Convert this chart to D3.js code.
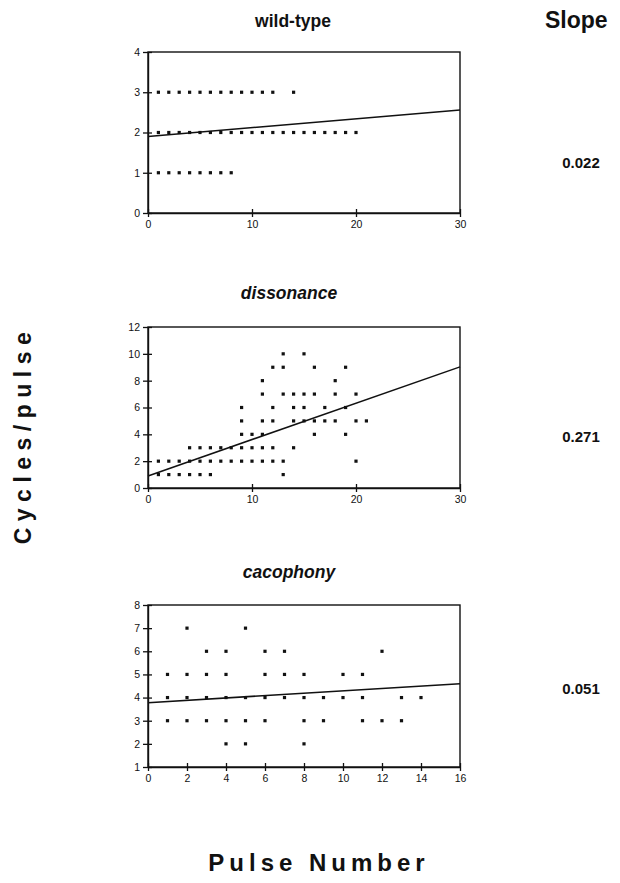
<!DOCTYPE html>
<html>
<head>
<meta charset="utf-8">
<script src="https://cdn.jsdelivr.net/npm/d3@7"></script>
<style>
  html, body { margin: 0; padding: 0; background: #fff; }
  svg { display: block; font-family: "Liberation Sans", Arial, Helvetica, sans-serif; }
</style>
</head>
<body>
<svg id="chart" width="620" height="883"></svg>
<script>
// ---- Data ----
const panelTitles = ["wild-type", "dissonance", "cacophony"];
const slopeLabels = ["0.022", "0.271", "0.051"];
const slopes = [0.022, 0.271, 0.051];
const intercepts = [1.9, 0.9, 3.78];
const xDomains = [[0, 30], [0, 30], [0, 16]];
const yDomains = [[0, 4], [0, 12], [1, 8]];
const xTickValues = [[0, 10, 20, 30], [0, 10, 20, 30], [0, 2, 4, 6, 8, 10, 12, 14, 16]];
const yTickValues = [[0, 1, 2, 3, 4], [0, 2, 4, 6, 8, 10, 12], [1, 2, 3, 4, 5, 6, 7, 8]];

const wildTypePoints = [
  [1,3],[2,3],[3,3],[4,3],[5,3],[6,3],[7,3],[8,3],[9,3],[10,3],[11,3],[12,3],[14,3],
  [1,2],[2,2],[3,2],[4,2],[5,2],[6,2],[7,2],[8,2],[9,2],[10,2],[11,2],[12,2],[13,2],[14,2],[15,2],[16,2],[17,2],[18,2],[19,2],[20,2],
  [1,1],[2,1],[3,1],[4,1],[5,1],[6,1],[7,1],[8,1]
];
const dissonancePoints = [
  [13,10],[15,10],
  [12,9],[13,9],[16,9],[19,9],
  [11,8],[18,8],
  [11,7],[13,7],[14,7],[15,7],[16,7],[18,7],[20,7],
  [9,6],[12,6],[14,6],[15,6],[17,6],[19,6],
  [9,5],[11,5],[12,5],[14,5],[15,5],[16,5],[17,5],[18,5],[20,5],[21,5],
  [9,4],[10,4],[11,4],[16,4],[19,4],
  [4,3],[5,3],[6,3],[7,3],[8,3],[9,3],[10,3],[11,3],[12,3],[14,3],
  [1,2],[2,2],[3,2],[4,2],[5,2],[6,2],[7,2],[8,2],[9,2],[10,2],[11,2],[12,2],[13,2],[20,2],
  [1,1],[2,1],[3,1],[4,1],[5,1],[6,1],[13,1]
];
const cacophonyPoints = [
  [2,7],[5,7],
  [3,6],[4,6],[6,6],[7,6],[12,6],
  [1,5],[2,5],[3,5],[4,5],[6,5],[7,5],[8,5],[10,5],[11,5],
  [1,4],[2,4],[3,4],[4,4],[5,4],[6,4],[7,4],[8,4],[9,4],[10,4],[11,4],[13,4],[14,4],
  [1,3],[2,3],[3,3],[4,3],[5,3],[6,3],[8,3],[9,3],[11,3],[12,3],[13,3],
  [4,2],[5,2],[8,2]
];
const panelPoints = [wildTypePoints, dissonancePoints, cacophonyPoints];

// ---- Layout ----
const svg = d3.select("#chart");
const plotLeft = 148, plotRight = 460;
const panelTops = [52, 327, 605];
const panelBottoms = [213, 488, 767];
const titleY = [27, 299, 578];
const titleX = [293, 289, 289];
const titleStyles = ["normal", "italic", "italic"];
const slopeY = [168, 442, 694];
const fmt = d3.format("d");

panelTitles.forEach((title, i) => {
  const x = d3.scaleLinear().domain(xDomains[i]).range([plotLeft, plotRight]);
  const y = d3.scaleLinear().domain(yDomains[i]).range([panelBottoms[i], panelTops[i]]);
  const g = svg.append("g");

  // frame
  g.append("rect")
    .attr("x", plotLeft).attr("y", panelTops[i])
    .attr("width", plotRight - plotLeft).attr("height", panelBottoms[i] - panelTops[i])
    .attr("fill", "none").attr("stroke", "#111").attr("stroke-width", 1.4);

  // y axis
  const yAxis = d3.axisLeft(y).tickValues(yTickValues[i]).tickFormat(fmt)
    .tickSizeInner(5).tickSizeOuter(0).tickPadding(3);
  const ya = g.append("g").attr("transform", `translate(${plotLeft},0)`).call(yAxis);
  ya.select(".domain").attr("stroke", "#111").attr("stroke-width", 1.4);
  ya.selectAll(".tick line").attr("x2", -5).attr("x1", 4).attr("stroke", "#111").attr("stroke-width", 1.3);
  ya.selectAll(".tick text").attr("font-size", 10.5).attr("fill", "#111").attr("font-family", "Liberation Sans, Arial, sans-serif");

  // x axis
  const xAxis = d3.axisBottom(x).tickValues(xTickValues[i]).tickFormat(fmt)
    .tickSizeInner(4).tickSizeOuter(0).tickPadding(4);
  const xa = g.append("g").attr("transform", `translate(0,${panelBottoms[i]})`).call(xAxis);
  xa.select(".domain").attr("stroke", "#111").attr("stroke-width", 1.4);
  xa.selectAll(".tick line").attr("y1", -4).attr("y2", 4).attr("stroke", "#111").attr("stroke-width", 1.3);
  xa.selectAll(".tick text").attr("font-size", 10.5).attr("fill", "#111").attr("font-family", "Liberation Sans, Arial, sans-serif");

  // points
  g.selectAll("rect.pt").data(panelPoints[i]).enter().append("rect")
    .attr("class", "pt")
    .attr("x", d => x(d[0]) - 1.6).attr("y", d => y(d[1]) - 1.6)
    .attr("width", 3.2).attr("height", 3.2)
    .attr("fill", "#111");

  // regression line
  const x0 = xDomains[i][0], x1 = xDomains[i][1];
  g.append("line")
    .attr("x1", x(x0)).attr("y1", y(intercepts[i] + slopes[i] * x0))
    .attr("x2", x(x1)).attr("y2", y(intercepts[i] + slopes[i] * x1))
    .attr("stroke", "#111").attr("stroke-width", 1.5);

  // title
  svg.append("text")
    .attr("x", titleX[i]).attr("y", titleY[i])
    .attr("text-anchor", "middle")
    .attr("font-size", 17.5).attr("font-weight", "bold")
    .attr("font-style", titleStyles[i])
    .attr("fill", "#111")
    .text(title);

  // slope value
  svg.append("text")
    .attr("x", 581).attr("y", slopeY[i])
    .attr("text-anchor", "middle")
    .attr("font-size", 15).attr("font-weight", "bold")
    .attr("fill", "#111")
    .text(slopeLabels[i]);
});

// Slope header
svg.append("text")
  .attr("x", 545).attr("y", 28)
  .attr("font-size", 23).attr("font-weight", "bold").attr("fill", "#111")
  .text("Slope");

// Y label
svg.append("text")
  .attr("transform", "translate(31,435) rotate(-90)")
  .attr("text-anchor", "middle")
  .attr("font-size", 23).attr("font-weight", "bold")
  .attr("letter-spacing", 6.5)
  .attr("fill", "#111")
  .text("Cycles/pulse");

// X label
svg.append("text")
  .attr("x", 319).attr("y", 871)
  .attr("text-anchor", "middle")
  .attr("font-size", 24).attr("font-weight", "bold")
  .attr("letter-spacing", 5)
  .attr("fill", "#111")
  .text("Pulse Number");
</script>
</body>
</html>
